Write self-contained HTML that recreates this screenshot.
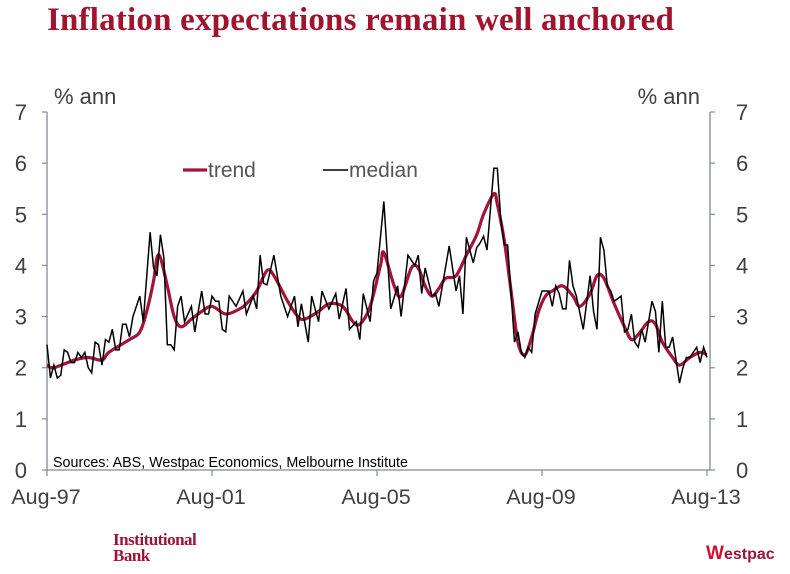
<!DOCTYPE html>
<html><head><meta charset="utf-8">
<style>
body{margin:0;background:#fff;width:790px;height:574px;overflow:hidden;position:relative;font-family:"Liberation Sans",sans-serif}
#title{position:absolute;left:47px;top:2px;font:bold 33px "Liberation Serif",serif;color:#a0142f;white-space:nowrap;letter-spacing:0.2px}
#ib{position:absolute;left:113px;top:532px;font:bold 17px/16px "Liberation Serif",serif;color:#9b1535;letter-spacing:-0.5px}
#wp{position:absolute;left:706px;top:543px;font:bold 16px "Liberation Sans",sans-serif;color:#9b1535}
#wp span{color:#d0102e;font-weight:900;font-size:19px}
</style></head><body>
<div id="title">Inflation expectations remain well anchored</div>
<svg id="chart" width="790" height="574" style="position:absolute;left:0;top:0"></svg>
<div id="ib">Institutional<br>Bank</div>
<div id="wp"><span>W</span>estpac</div>
<script>
const medianMonths=[0,1,2,3,4,5,6,7,8,9,10,11,12,13,14,15,16,17,18,19,20,21,22,23,24,25,27,28,30,31,32,33,34,35,36,37,38,39,40,41,42,43,45,46,47,48,49,50,51,52,53,55,57,58,60,61,62,63,64,66,68,70,72,73,74,76,77,79,80,82,84,85,87,88,90,91,92,94,95,96,98,100,102,103,105,107,108,109,110,112,113,114,117,119,120,121,122,124,125,126,127,128,130,131,132,133,134,136,137,138,139,140,141,142,144,146,147,148,149,150,151,152,153,154,156,158,159,160,161,162,163,164,165,167,168,169,170,171,172,173,174,176,177,178,179,180,181,182,183,184,185,186,187,189,190,191,192];
const medianValues=[2.45,1.8,2.05,1.8,1.85,2.35,2.3,2.1,2.1,2.3,2.2,2.3,2.0,1.9,2.5,2.45,2.05,2.55,2.5,2.75,2.35,2.35,2.85,2.85,2.6,3.0,3.4,2.9,4.65,3.95,3.8,4.6,4.15,2.45,2.45,2.35,3.2,3.4,2.9,3.05,3.2,2.7,3.5,3.05,3.05,3.4,3.3,3.3,2.75,2.7,3.4,3.2,3.5,3.05,3.4,3.15,4.2,3.65,3.62,4.2,3.4,3.0,3.4,2.8,3.25,2.5,3.4,2.9,3.5,3.15,3.45,2.95,3.55,2.75,2.9,2.55,3.45,2.9,3.7,3.85,5.25,3.15,3.6,3.0,4.2,4.0,4.2,3.45,3.95,3.4,3.45,3.2,4.38,3.5,3.8,3.05,4.55,4.05,4.35,4.44,4.57,4.3,5.9,5.9,4.9,4.4,4.4,2.5,2.7,2.3,2.2,2.4,2.3,3.05,3.5,3.5,3.2,3.6,3.45,3.15,3.15,4.1,3.6,3.4,2.75,3.8,3.1,2.75,4.55,4.3,3.6,3.5,3.3,3.4,2.7,2.75,3.05,2.5,2.4,2.75,2.5,3.3,3.1,2.3,3.3,2.4,2.4,2.6,2.15,1.7,2.0,2.2,2.2,2.4,2.1,2.4,2.2,2.25];
const trendMonths=[0,2,8,12,16,18,24,27,29,31,32,33,35,37,39,42,45,48,52,56,58,61,64,66,70,73,75,79,82,86,89,91,94,97,98,101,103,106,108,110,112,114,116,119,122,125,127,130,131,133,135,137,139,141,143,145,147,150,153,155,158,160,162,165,168,170,172,175,177,179,182,184,187,190,192];
const trendValues=[2.05,2.0,2.15,2.2,2.15,2.3,2.55,2.7,3.1,3.7,4.15,4.15,3.6,3.0,2.8,2.95,3.1,3.2,3.05,3.15,3.25,3.5,3.9,3.8,3.3,3.0,2.95,3.1,3.25,3.2,2.9,2.85,3.2,4.0,4.25,3.6,3.4,3.95,3.95,3.6,3.4,3.55,3.75,3.8,4.2,4.6,5.0,5.4,5.2,4.5,3.5,2.5,2.25,2.6,3.1,3.4,3.5,3.6,3.4,3.2,3.45,3.8,3.75,3.25,2.8,2.55,2.65,2.9,2.85,2.5,2.2,2.05,2.2,2.3,2.25];
const yTicks=[0,1,2,3,4,5,6,7];
const xTickMonths=[0,48,96,144,192];
const xTickLabels=["Aug-97","Aug-01","Aug-05","Aug-09","Aug-13"];

const NS="http://www.w3.org/2000/svg";
const svg=document.getElementById('chart');
const X0=47,X1=707,Y0=470,Y7=112;
const xs=m=>X0+m*(X1-X0)/192;
const ys=v=>Y0-v*(Y0-Y7)/7;
function mk(t,a,txt){const e=document.createElementNS(NS,t);for(const k in a)e.setAttribute(k,a[k]);if(txt!==undefined)e.textContent=txt;svg.appendChild(e);return e;}
const ax='#7f8a96';
let e=mk('line',{x1:X0,y1:Y7,x2:X0,y2:Y0,stroke:ax,'stroke-width':1.3});

e=mk('line',{x1:710,y1:Y7,x2:710,y2:Y0,stroke:ax,'stroke-width':1.3});

e=mk('line',{x1:X0,y1:Y0,x2:710,y2:Y0,stroke:ax,'stroke-width':1.3});

yTicks.forEach(v=>{
 const y=ys(v);
 mk('line',{x1:X0-5,y1:y,x2:X0,y2:y,stroke:ax,'stroke-width':1.2});
 mk('line',{x1:710,y1:y,x2:715,y2:y,stroke:ax,'stroke-width':1.2});
 let t=mk('text',{x:27,y:y+8,'text-anchor':'end','font-size':22,fill:'#404040'},String(v));
 
 t=mk('text',{x:736,y:y+8,'font-size':22,fill:'#404040'},String(v));
 
});
xTickMonths.forEach((m,i)=>{
 const x=xs(m);
 mk('line',{x1:x,y1:Y0,x2:x,y2:Y0+6,stroke:ax,'stroke-width':1.2});
 const t=mk('text',{x:x-1,y:504,'text-anchor':'middle','font-size':21.5,fill:'#404040'},xTickLabels[i]);
 
});
e=mk('text',{x:54,y:104,'font-size':22,fill:'#404040'},'% ann');

e=mk('text',{x:700,y:104,'font-size':22,fill:'#404040','text-anchor':'end'},'% ann');

const tp=trendMonths.map((m,i)=>[xs(m),ys(trendValues[i])]);
let d='M'+tp[0][0]+','+tp[0][1];
for(let i=0;i<tp.length-1;i++){const p0=tp[Math.max(0,i-1)],p1=tp[i],p2=tp[i+1],p3=tp[Math.min(tp.length-1,i+2)];
 d+=' C'+(p1[0]+(p2[0]-p0[0])/6)+','+(p1[1]+(p2[1]-p0[1])/6)+' '+(p2[0]-(p3[0]-p1[0])/6)+','+(p2[1]-(p3[1]-p1[1])/6)+' '+p2[0]+','+p2[1];}
e=mk('path',{d:d,fill:'none',stroke:'#a3143a','stroke-width':3.2,'stroke-linejoin':'round'});

e=mk('polyline',{points:medianMonths.map((m,i)=>xs(m)+','+ys(medianValues[i])).join(' '),fill:'none',stroke:'#000','stroke-width':1.5,'stroke-linejoin':'miter'});

e=mk('line',{x1:183,y1:170,x2:207,y2:170,stroke:'#a3143a','stroke-width':3.2});

e=mk('text',{x:208,y:177,'font-size':21,fill:'#555'},'trend');

e=mk('line',{x1:323,y1:170,x2:348,y2:170,stroke:'#000','stroke-width':1.5});

e=mk('text',{x:349,y:177,'font-size':21,fill:'#555'},'median');

e=mk('text',{x:53,y:467,'font-size':14.3,fill:'#000'},'Sources: ABS, Westpac Economics, Melbourne Institute');

</script>
</body></html>
